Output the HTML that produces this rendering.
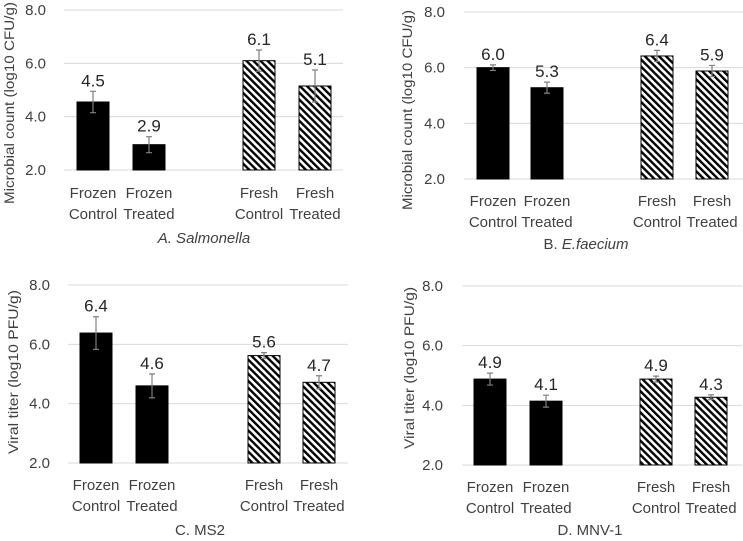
<!DOCTYPE html>
<html><head><meta charset="utf-8"><style>
html,body{margin:0;padding:0;background:#fff;width:743px;height:541px;overflow:hidden}
svg text{font-family:"Liberation Sans",sans-serif;fill:#404040}
</style></head><body>
<svg id="c" width="743" height="541" viewBox="0 0 743 541" xmlns="http://www.w3.org/2000/svg">
<defs>
<pattern id="hatch" patternUnits="userSpaceOnUse" width="5" height="5" patternTransform="rotate(-45)">
<rect x="0" y="0" width="5" height="5" fill="#fff"/><rect x="0" y="0" width="2.4" height="5" fill="#000"/>
</pattern>
</defs>
</svg>
<script>
const categories = [["Frozen","Control"],["Frozen","Treated"],["Fresh","Control"],["Fresh","Treated"]];
const ticks = [2,4,6,8];
const valuesA = [4.55, 2.95, 6.1, 5.15];
const errorsA = [0.4, 0.3, 0.4, 0.6];
const labelsA = ["4.5","2.9","6.1","5.1"];
const valuesB = [6.0, 5.28, 6.42, 5.88];
const errorsB = [0.1, 0.2, 0.2, 0.2];
const labelsB = ["6.0","5.3","6.4","5.9"];
const valuesC = [6.38, 4.6, 5.62, 4.72];
const errorsC = [0.55, 0.4, 0.1, 0.22];
const labelsC = ["6.4","4.6","5.6","4.7"];
const valuesD = [4.88, 4.14, 4.88, 4.27];
const errorsD = [0.2, 0.2, 0.1, 0.08];
const labelsD = ["4.9","4.1","4.9","4.3"];

const svg = document.getElementById('c');
const NS = 'http://www.w3.org/2000/svg';
function mk(tag, attrs, parent){const e=document.createElementNS(NS,tag);for(const k in attrs)e.setAttribute(k,attrs[k]);(parent||svg).appendChild(e);return e;}

function panel(p){
  const g = mk('g',{});
  
  
  const y = v => p.y2 - (v-2)/6*(p.y2-p.y8);
  ticks.forEach(t=>{
    const gl = mk('line',{x1:p.x0,x2:p.x1,y1:y(t),y2:y(t),stroke:'#d9d9d9','stroke-width':1},g);
    
    
    const tl = mk('text',{x:p.tx,y:y(t)+5,'text-anchor':'end','font-size':15},g);
    tl.textContent = t.toFixed(1);
    
    
  });
  const yt = mk('text',{x:0,y:0,'text-anchor':'middle','font-size':14,textLength:p.ytl,lengthAdjust:'spacingAndGlyphs',transform:`translate(${p.ytx},${p.ytc}) rotate(-90)`},g);
  yt.textContent = p.ytitle;
  
  
  p.values.forEach((v,i)=>{
    const bx = p.bx[i], w = 32;
    const b = mk('rect',{x:bx,y:y(v),width:w,height:y(2)-y(v),fill: i<2?'#000':'url(#hatch)',stroke:'#000','stroke-width':1},g);
    
    
    const cx = bx + w/2, e = p.errors[i];
    const eb = mk('path',{d:`M${cx},${y(v+e)}V${y(v-e)}M${cx-3},${y(v+e)}H${cx+3}M${cx-3},${y(v-e)}H${cx+3}`,stroke:'#7f7f7f','stroke-width':1.2,fill:'none'},g);
    
    
    const vl = mk('text',{x:cx,y:y(v+e)-5,'text-anchor':'middle','font-size':17,style:'fill:#262626'},g);
    vl.textContent = p.labels[i];
    
    
    categories[i].forEach((s,j)=>{
      const cl = mk('text',{x:cx,y:p.cy+j*21,'text-anchor':'middle','font-size':15},g);
      cl.textContent = s;
      
      
    });
  });
  const tt = mk('text',{x:p.ttx,y:p.tty,'text-anchor':'middle','font-size':15},g);
  tt.innerHTML = p.title;
  
  
}

panel({name:'panel-a-salmonella',values:valuesA,errors:errorsA,labels:labelsA,x0:64,x1:343,y8:10,y2:170,tx:46,ytx:14,ytc:103,ytl:202,
  bx:[77,133,243,299],cy:198,ytitle:'Microbial count (log10 CFU/g)',title:'<tspan font-style="italic">A. Salmonella</tspan>',ttx:204,tty:243});
panel({name:'panel-b-efaecium',values:valuesB,errors:errorsB,labels:labelsB,x0:464,x1:743,y8:12,y2:179,tx:445,ytx:412,ytc:110,ytl:200,
  bx:[477,531,641,696],cy:206,ytitle:'Microbial count (log10 CFU/g)',title:'B. <tspan font-style="italic">E.faecium</tspan>',ttx:586,tty:249});
panel({name:'panel-c-ms2',values:valuesC,errors:errorsC,labels:labelsC,x0:68,x1:348,y8:285,y2:463,tx:50,ytx:18,ytc:372,ytl:164,
  bx:[80,136,248,303],cy:490,ytitle:'Viral titer (log10 PFU/g)',title:'C. MS2',ttx:200,tty:535});
panel({name:'panel-d-mnv1',values:valuesD,errors:errorsD,labels:labelsD,x0:462,x1:742,y8:286,y2:465,tx:443,ytx:414,ytc:368,ytl:162,
  bx:[474,530,640,695],cy:492,ytitle:'Viral titer (log10 PFU/g)',title:'D. MNV-1',ttx:590,tty:535});
</script>
</body></html>
